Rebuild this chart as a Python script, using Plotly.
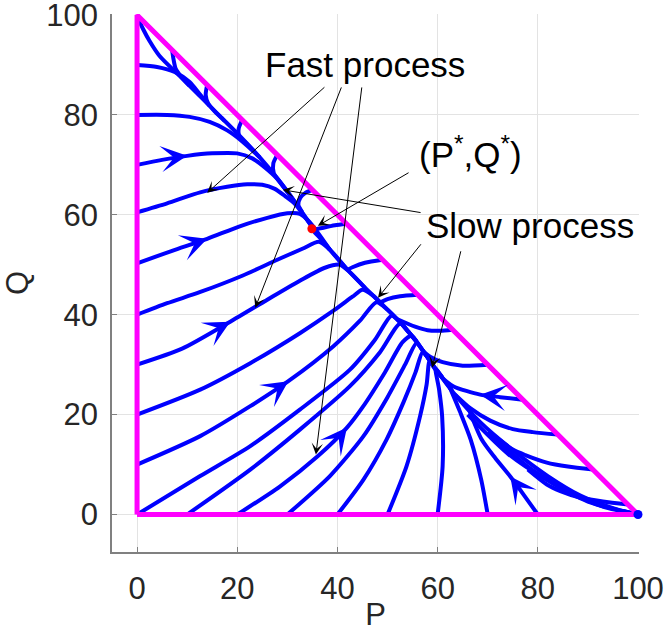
import plotly.graph_objects as go

# ---- data (P, Q) ----
manifold = [(0,100),(0.6,98.5),(1.2,97.2),(2.5,94.8),(4.5,91.8),(8.5,87.8),(12.5,83.8),(16.5,79.8),
            (20.5,75.8),(24.5,71.5),(28,67.3),(31.5,62.6),(35,57.5),(38.5,53),(42,49),(45.5,45.4),
            (49,42),(52.5,38.5),(55.8,34.6),(59,30),(63,24.6),(68.5,18.5),(75,12.9),(82,7.7),
            (88.5,3.8),(95,1.3),(100,0)]

left_Q90 = [(0,90),(4,89.6),(7.5,88.6),(10.5,86.6),(12.5,84.2),(14.5,81.8)]
left_Q80 = [(0,80),(6,80),(10.5,79.6),(14.5,78.6),(18,76.9),(21,74.7),(24.5,71.5)]
left_Q70 = [(0,70),(5,71),(10,71.8),(15,72.3),(20,72.3),(23,71.3),(25.5,69.5),(28,67.2),(31.5,62.6)]
left_Q60 = [(0,60.5),(6,62.3),(12.6,64.5),(18,65.6),(22,66.1),(25,66),(27.5,65.2),(29.5,63.8),(31.5,62.2),(35,57.5)]
left_Q50 = [(0,50.3),(7,52.8),(14,55.2),(20.5,57.7),(26,59.4),(30,60.3),(32.5,60.2),(34.5,58.5),(38.5,53)]
left_Q40 = [(0,40),(6,42.3),(12.5,44.5),(21,47.8),(28,51),(33,53.2),(36.3,54.6),(38.5,53),(42,49)]
left_Q30 = [(0,30),(9,33.2),(18.6,38.6),(26,43),(32.5,46.8),(37.5,49.4),(40.5,50),(42.5,48.5),(45.5,45.4)]
left_Q20 = [(0,20),(12.6,25),(22.6,30.3),(32.5,36.3),(39.2,40.8),(43,43.6),(45,45),(47,43.9),(49,42)]
left_Q10 = [(0,10),(12.6,15.7),(22.6,21.7),(30.2,26.7),(39.2,33.7),(44.5,38.8),(47.8,42.5),(50,41),(52.5,38.5)]
corner_0 = [(0,0),(12.6,7.7),(22.6,13.7),(32.5,21),(42.5,29),(47.5,35),(50.8,39.8),(52.5,38.5),(55.8,34.6)]

bottom_P10 = [(10,0),(22.6,9),(32.5,17),(42.5,25.7),(48.5,32.5),(52.5,38.2),(54.2,36.5),(55.8,34.6)]
bottom_P20 = [(20,0),(28.5,5.6),(36,11.6),(41.9,17.4),(45.1,21.6),(49.5,28.5),(53,34.5),(54.8,35.8),(56.5,33.6),(59,30)]
bottom_P30 = [(30,0),(38.5,7.7),(45.2,15.7),(50,23.5),(53.5,30),(55.8,34.3),(57.2,32.6),(59,30)]
bottom_P40 = [(40,0),(45.2,7),(49.8,15),(53.2,22.5),(55.6,28.5),(57,32.5),(58,31.5),(59,30)]
bottom_P50 = [(50,0),(53.8,9.7),(56.5,19.7),(57.8,26),(58.4,30.8),(59,30),(61,27.4)]
bottom_P60 = [(60,0),(61,9.7),(60.9,19.7),(60.3,25),(59.6,29.2),(61,27.3),(63,24.6)]
bottom_P70 = [(70,0),(68.7,7),(66.6,15),(64.5,20.5),(62.5,25.3)]
bottom_P80 = [(80,0),(77.3,3.8),(74.5,7.6),(71.5,11.3),(68.8,15),(66.3,20.9)]

hyp_P7  = [(7,93),(7.3,91),(7.7,89.3),(8.7,87.8),(10.5,85.8)]
hyp_P14 = [(14,86),(13.7,84),(14.2,82.3),(15.5,80.7),(17.5,78.8)]
hyp_P21 = [(21,79),(20.3,77.3),(20.4,75.8),(21.5,74.6),(23.5,72.6)]
hyp_P28 = [(28,72),(27.2,70.3),(27.3,68.3),(28.3,66.8),(30,64.6)]
hyp_P35 = [(35,65),(33.6,64.4),(32.6,63.4),(32.2,62),(33,60.5)]
hyp_P42 = [(41.8,58.2),(39.5,57.9),(37.2,57.4),(35.2,56.9),(36.5,55.4),(38.5,53)]
hyp_P49 = [(49,51),(45.5,50.4),(43,49.5),(41.8,48.9)]
hyp_P56 = [(56,44),(52.5,43.7),(50,43.1),(48.5,42.4)]
hyp_P63 = [(63,37),(60.5,36.8),(58,36.9),(55.5,37.6),(52,39.1)]
hyp_P70 = [(70,30),(65,29.8),(61,30.5),(58.5,31.6),(57,32.8)]
hyp_P77 = [(77,23),(72.5,23.5),(68.5,24),(63.1,25.7),(60.5,27.8),(59,29.8)]
hyp_P84 = [(84,16),(79,16.5),(75,17.1),(70.5,18.8),(66.5,21.3),(63.5,24)]
hyp_P91 = [(91,9),(86,9.6),(81.8,10.4),(77.5,11.9),(75,13),(71,16)]
hyp_P98 = [(98,2),(93,2.6),(88.4,3.4),(84.5,4.7),(81.8,6),(78,9)]

tail_1 = [(66,20),(74,12.2),(82,6.8),(90,2.6),(100,0)]
tail_2 = [(70,16.5),(78,9.6),(86,4.6),(93,1.6),(100,0)]

# arrowheads on trajectories: (P, Q, dP, dQ)
flow_arrows = [(10,71.8,1,0.12),(14,55.2,1,0.36),(18.6,38.6,1,0.55),(30.2,26.7,1,0.68),
               (41.9,17.4,1,1.25),(68.5,24,-1,0.12),(74.5,7.6,-0.75,1)]

equilibrium = (34.9, 57.2)
end_point = (100, 0)
triangle_P = [0, 100, 0, 0]
triangle_Q = [0, 0, 100, 0]

# annotations: text, text position, list of (tail, head)
fast_text = ("Fast process", 45.6, 90.0)
fast_arrows = [((37.7,85.8),(14.0,64.4)), ((40.9,85.8),(23.6,41.4)), ((44.9,85.8),(35.7,12.0))]
pq_text = ("(P<sup>*</sup>,Q<sup>*</sup>)", 66.5, 72.6)
pq_arrows = [((54.5,68.6),(36.1,57.8))]
slow_text = ("Slow process", 78.5, 57.8)
slow_arrows = [((56.9,60.4),(29.1,65.0)), ((56.9,54.4),(48.1,43.4)), ((64.7,53.0),(58.9,29.4))]

x_ticks = [0, 20, 40, 60, 80, 100]
y_ticks = [0, 20, 40, 60, 80, 100]

BLUE = "#0000ff"
fig = go.Figure()

trajectories = [manifold, left_Q90, left_Q80, left_Q70, left_Q60, left_Q50, left_Q40, left_Q30,
                left_Q20, left_Q10, corner_0, bottom_P10, bottom_P20, bottom_P30, bottom_P40,
                bottom_P50, bottom_P60, bottom_P70, bottom_P80, hyp_P7, hyp_P14, hyp_P21, hyp_P28,
                hyp_P35, hyp_P42, hyp_P49, hyp_P56, hyp_P63, hyp_P70, hyp_P77, hyp_P84, hyp_P91,
                hyp_P98, tail_1, tail_2]
for tr in trajectories:
    fig.add_trace(go.Scatter(x=[p for p, q in tr], y=[q for p, q in tr], mode="lines",
                             line=dict(color=BLUE, width=4, shape="spline", smoothing=0.7),
                             hoverinfo="skip", showlegend=False))

fig.add_trace(go.Scatter(x=triangle_P, y=triangle_Q, mode="lines",
                         line=dict(color="#ff00ff", width=5), showlegend=False))
fig.add_trace(go.Scatter(x=[end_point[0]], y=[end_point[1]], mode="markers", cliponaxis=False,
                         marker=dict(color=BLUE, size=9), showlegend=False))
fig.add_trace(go.Scatter(x=[equilibrium[0]], y=[equilibrium[1]], mode="markers",
                         marker=dict(color="#ff0000", size=9), showlegend=False))

anns = []
for (p, q, dp, dq) in flow_arrows:
    n = (dp * dp + dq * dq) ** 0.5
    L = 12
    anns.append(dict(x=p, y=q, xref="x", yref="y", ax=-dp / n * L, ay=dq / n * L,
                     showarrow=True, arrowhead=3, arrowsize=2.2, arrowwidth=2,
                     arrowcolor=BLUE, text=""))

TEXT_FONT = dict(family="Liberation Sans, Arial, sans-serif", size=35, color="#000000")
for (txt, tx, ty), arrows in [(fast_text, fast_arrows), (pq_text, pq_arrows), (slow_text, slow_arrows)]:
    anns.append(dict(x=tx, y=ty, xref="x", yref="y", text=txt, showarrow=False, font=TEXT_FONT,
                     xanchor="center", yanchor="middle"))
    for (tail, head) in arrows:
        anns.append(dict(x=head[0], y=head[1], ax=tail[0], ay=tail[1], xref="x", yref="y",
                         axref="x", ayref="y", showarrow=True, arrowhead=3, arrowsize=1.9,
                         arrowwidth=1, arrowcolor="#000000", text=""))

AX_FONT = dict(family="Liberation Sans, Arial, sans-serif", size=31, color="#262626")
fig.update_layout(
    width=665, height=632, margin=dict(l=112, r=26, t=14, b=80, autoexpand=False),
    paper_bgcolor="white", plot_bgcolor="white", annotations=anns,
    xaxis=dict(range=[-5, 100.2], tickvals=x_ticks, showgrid=True, gridcolor="#e3e3e3", gridwidth=1,
               zeroline=False, showline=True, linecolor="#808080", linewidth=1.5, automargin=False,
               ticks="inside", ticklen=5, tickcolor="#808080", tickfont=AX_FONT,
               ticklabelstandoff=8, ticklabeloverflow="allow",
               title=dict(text="P", font=AX_FONT, standoff=0)),
    yaxis=dict(range=[-7.5, 100.2], tickvals=y_ticks, showgrid=True, gridcolor="#e3e3e3", gridwidth=1,
               zeroline=False, showline=True, linecolor="#808080", linewidth=1.5, automargin=False,
               ticks="inside", ticklen=5, tickcolor="#808080", tickfont=AX_FONT,
               ticklabelstandoff=6, ticklabeloverflow="allow",
               title=dict(text="Q", font=AX_FONT, standoff=22)),
)
fig.write_html("out.html")
